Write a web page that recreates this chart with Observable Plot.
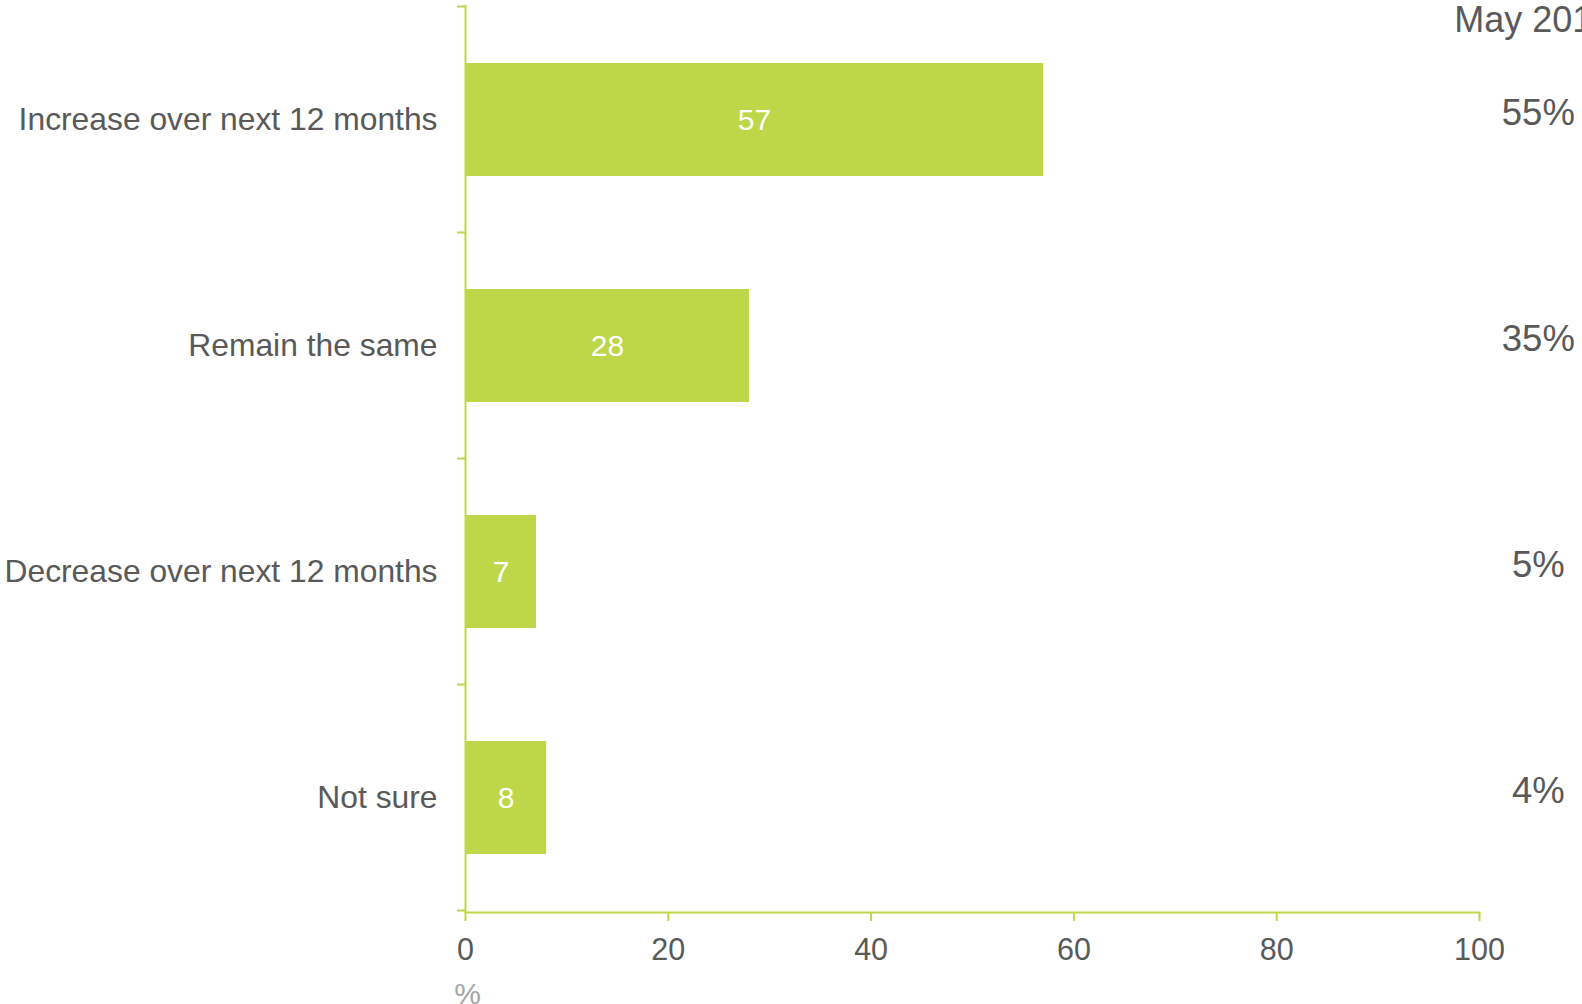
<!DOCTYPE html>
<html>
<head>
<meta charset="utf-8">
<script src="https://cdn.jsdelivr.net/npm/d3@7"></script>
<script src="https://cdn.jsdelivr.net/npm/@observablehq/plot@0.6"></script>
<style>
  html, body { margin: 0; padding: 0; background: white; overflow: hidden; }
  #chart svg { overflow: hidden; display: block; }
</style>
</head>
<body>
<div id="chart"></div>
<script>
const categories = ["Increase over next 12 months", "Remain the same", "Decrease over next 12 months", "Not sure"];
const values = [57, 28, 7, 8];
const priorLabel = "May 2017";
const priorValues = ["55%", "35%", "5%", "4%"];
const xTicks = [0, 20, 40, 60, 80, 100];
const axisUnit = "%";

const data = categories.map((c, i) => ({cat: c, value: values[i], prior: priorValues[i]}));

const green = "#bdd748";
const grey = "#595959";
const colX = 105.8;

const plot = Plot.plot({
  width: 1582,
  height: 1004,
  marginLeft: 465,
  marginRight: 103,
  marginTop: 5,
  marginBottom: 92,
  style: {fontFamily: "'Liberation Sans', Arial, sans-serif", fontSize: "30px", color: grey, background: "white", overflow: "hidden"},
  x: {domain: [0, 100]},
  y: {domain: categories, paddingInner: 0.5, paddingOuter: 0.25},
  marks: [
    Plot.barX(data, {x: "value", y: "cat", fill: green}),
    Plot.text(data, {x: d => d.value / 2, y: "cat", text: d => String(d.value), fill: "white", fontSize: 30}),
    Plot.frame({anchor: "bottom", stroke: green, strokeWidth: 2}),
    Plot.ruleX([0], {stroke: green, strokeWidth: 2}),
    Plot.axisX({ticks: xTicks, tickSize: 9, tickPadding: 17, stroke: green, strokeWidth: 2, fill: grey, fontSize: 30.5, label: null}),
    Plot.axisY({tickSize: 0, tickPadding: 28, fill: grey, fontSize: 31.8, label: null}),
    Plot.text([axisUnit], {x: () => 0, frameAnchor: "bottom", dy: 82, dx: 2, lineAnchor: "middle", text: d => d, fill: "#a6a6a6", fontSize: 30}),
    Plot.text([priorLabel], {x: () => colX, frameAnchor: "top", dy: 15, dx: -84, lineAnchor: "middle", textAnchor: "start", text: d => d, fill: grey, fontSize: 36}),
    Plot.text(data, {x: () => colX, y: "cat", text: "prior", dy: -7, fill: grey, fontSize: 36.5})
  ]
});

// band-boundary ticks on the y axis, from the library's own scales
const ys = plot.scale("y");
const xs = plot.scale("x");
const half = (ys.step - ys.bandwidth) / 2;
const bounds = categories.map(c => ys.apply(c) - half);
bounds.push(ys.apply(categories[categories.length - 1]) + ys.bandwidth + half);
const x0 = xs.apply(0);
d3.select(plot).append("g")
  .selectAll("line").data(bounds).join("line")
  .attr("x1", x0 - 8).attr("x2", x0)
  .attr("y1", d => d).attr("y2", d => d)
  .attr("stroke", green).attr("stroke-width", 2);

document.getElementById("chart").appendChild(plot);
</script>
</body>
</html>
